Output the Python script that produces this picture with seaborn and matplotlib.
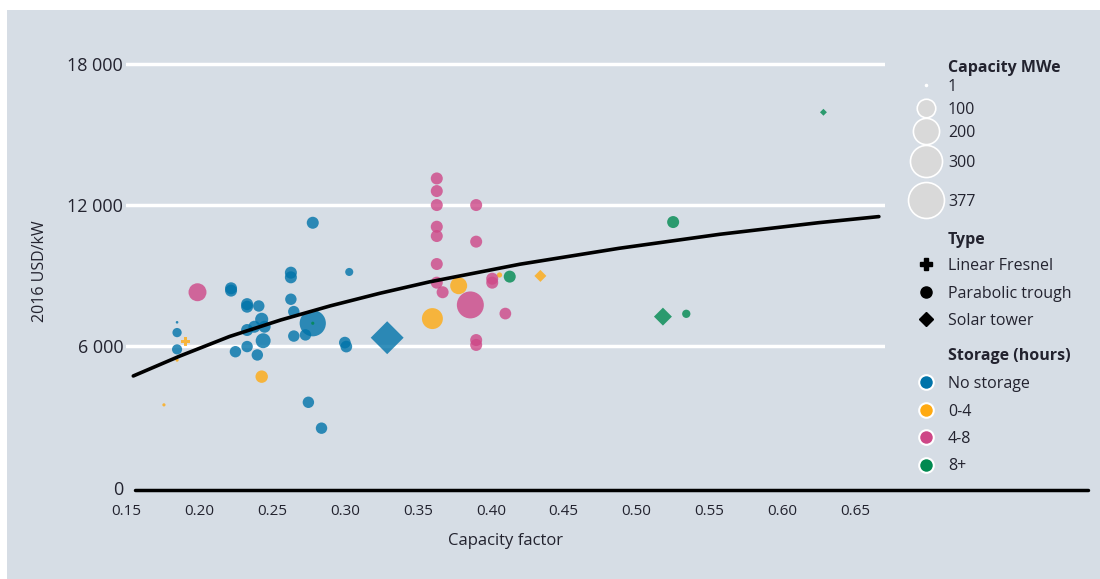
import matplotlib
matplotlib.use("Agg")
import matplotlib.pyplot as plt
from matplotlib.lines import Line2D
from matplotlib.patches import Rectangle
from matplotlib.ticker import FuncFormatter
import numpy as np
import pandas as pd
import seaborn as sns

# === Data ===
capacity_factor = [
    0.278, 0.303, 0.263, 0.263, 0.222, 0.222, 0.233, 0.233, 0.241, 0.263,
    0.265, 0.278, 0.243, 0.238, 0.245, 0.233, 0.244, 0.225, 0.233, 0.240,
    0.265, 0.273, 0.185, 0.185, 0.185, 0.275, 0.284, 0.300, 0.301, 0.329,
    0.191, 0.185, 0.243, 0.176, 0.378, 0.360, 0.406, 0.434,
    0.199, 0.363, 0.363, 0.363, 0.363, 0.363, 0.363, 0.363, 0.390, 0.390,
    0.390, 0.390, 0.367, 0.386, 0.401, 0.401, 0.410,
    0.413, 0.628, 0.525, 0.518, 0.534, 0.278,
]
cost_usd_kw = [
    11241, 9152, 9122, 8924, 8459, 8360, 7786, 7677, 7707, 7994,
    7469, 6974, 7142, 6826, 6826, 6687, 6232, 5766, 5984, 5628,
    6430, 6479, 6578, 5865, 7014, 3618, 2519, 6152, 5984, 6360,
    6192, 5410, 4707, 3509, 8568, 7172, 9023, 8984,
    8291, 13122, 12587, 11993, 11073, 10677, 9489, 8697, 11993, 10439,
    6261, 6053, 8291, 7752, 8865, 8697, 7385,
    8954, 15933, 11271, 7256, 7375, 6974,
]
capacity_mwe = [
    42, 19, 42, 42, 42, 42, 42, 42, 38, 38,
    38, 200, 50, 42, 42, 42, 65, 38, 38, 38,
    38, 38, 25, 30, 2, 38, 38, 40, 40, 158,
    24, 3, 45, 3, 84, 128, 8, 21,
    94, 42, 42, 42, 42, 42, 42, 42, 42, 42,
    42, 42, 42, 212, 42, 42, 40,
    42, 7, 42, 47, 20, 3,
]
storage_hours = (["No storage"] * 30 + ["0-4"] * 8 + ["4-8"] * 17 + ["8+"] * 6)
plant_type = (["Parabolic trough"] * 29 + ["Solar tower"]
              + ["Linear Fresnel"] + ["Parabolic trough"] * 6 + ["Solar tower"]
              + ["Parabolic trough"] * 17
              + ["Parabolic trough", "Solar tower", "Parabolic trough", "Solar tower",
                 "Parabolic trough", "Parabolic trough"])

# trend line, points
trend_cf = [0.155, 0.187, 0.221, 0.256, 0.290, 0.324, 0.358, 0.420, 0.488, 0.557, 0.625, 0.666]
trend_cost = [4736, 5584, 6413, 7112, 7712, 8247, 8731, 9481, 10157, 10752, 11246, 11503]

x_ticks = [0.15, 0.20, 0.25, 0.30, 0.35, 0.40, 0.45, 0.50, 0.55, 0.60, 0.65]
y_ticks = [0, 6000, 12000, 18000]
size_steps = [1, 100, 200, 300, 377]
storage_order = ["No storage", "0-4", "4-8", "8+"]
type_order = ["Linear Fresnel", "Parabolic trough", "Solar tower"]

# === Style ===
BG = "#d6dde5"
TXT = "#23232f"
palette = {"No storage": "#0073a9", "0-4": "#ffaa12", "4-8": "#ce4787", "8+": "#008950"}
markers = {"Linear Fresnel": "P", "Parabolic trough": "o", "Solar tower": "D"}
S_MIN, S_MAX = 1.8, 671
W, H = 1100, 579
LEG_FS = 11.5

df = pd.DataFrame({
    "cf": capacity_factor,
    "cost": cost_usd_kw,
    "capacity": capacity_mwe,
    "storage": storage_hours,
    "type": plant_type,
})

sns.set_style("white")
plt.rcParams["font.family"] = ["Open Sans", "DejaVu Sans"]

fig = plt.figure(figsize=(W / 100, H / 100), dpi=100, facecolor="white")
fig.add_artist(Rectangle((7 / W, 0), 1, 1 - 10 / H, transform=fig.transFigure,
                         facecolor=BG, edgecolor="none", zorder=-5))
ax = fig.add_axes([126 / W, 1 - 490 / H, (885 - 126) / W, (490 - 51.8) / H])
ax.set_facecolor("none")

sns.scatterplot(data=df, x="cf", y="cost", hue="storage", hue_order=storage_order,
                palette=palette, style="type", markers=markers,
                size="capacity", sizes=(S_MIN, S_MAX), size_norm=(1, 377),
                alpha=0.8, linewidth=0, legend=False, zorder=3, ax=ax)
ax.plot(trend_cf, trend_cost, color="black", lw=2.6, zorder=4,
        solid_capstyle="round", solid_joinstyle="round")

ax.set_xlim(0.15, 0.6702)
ax.set_ylim(-106, 18500)
ax.set_xticks(x_ticks)
ax.set_xticklabels([f"{v:.2f}" for v in x_ticks])
ax.set_yticks(y_ticks)
ax.yaxis.set_major_formatter(FuncFormatter(lambda v, p: f"{int(v):,}".replace(",", " ")))
ax.tick_params(axis="both", length=0, colors=TXT)
ax.tick_params(axis="x", labelsize=11, pad=10)
ax.tick_params(axis="y", labelsize=13, pad=2)
ax.grid(axis="y", color="white", lw=2.5)
ax.grid(axis="x", visible=False)
ax.set_axisbelow(True)
for val, gl in zip(y_ticks, ax.get_ygridlines()):
    if val == 0:
        gl.set_visible(False)
for s in ax.spines.values():
    s.set_visible(False)

ax.set_xlabel("Capacity factor", fontsize=12, color=TXT, labelpad=10)
ax.set_ylabel("2016 USD/kW", fontsize=11.5, color=TXT)
ax.yaxis.set_label_coords(-0.103, 0.5)

# bottom axis line runs under the legend too
fig.add_artist(Line2D([135 / W, 1088 / W], [1 - 490 / H] * 2, transform=fig.transFigure,
                      color="black", lw=2.5))

# === Legend ===
renderer = fig.canvas.get_renderer()
probe = fig.text(0, 0, "100", fontsize=LEG_FS)
row_h = probe.get_window_extent(renderer).height
probe.remove()

LABEL_X = 948
LEG_X = LABEL_X - (1.5 + 0.6) * LEG_FS * fig.dpi / 72


def add_legend(handles, labels, first_px, pitch_px):
    sep = (pitch_px - row_h) / (LEG_FS * fig.dpi / 72)
    mid = first_px + pitch_px * (len(labels) - 1) / 2
    fig.legend(handles, labels, loc="center left",
               bbox_to_anchor=(LEG_X / W, 1 - mid / H),
               frameon=False, fontsize=LEG_FS, labelspacing=sep,
               handlelength=1.5, handletextpad=0.6, borderpad=0,
               borderaxespad=0, labelcolor=TXT)


def size_of(c):
    return S_MIN + (c - 1) / (377 - 1) * (S_MAX - S_MIN)


def cap_handle(c):
    return Line2D([], [], ls="none", marker="o", ms=np.sqrt(size_of(c)),
                  mfc="#d9d9d9", mec="white", mew=1.2)


for txt, y in [("Capacity MWe", 68), ("Type", 240), ("Storage (hours)", 356)]:
    fig.text(LABEL_X / W, 1 - y / H, txt, fontsize=LEG_FS, fontweight="bold",
             color=TXT, va="center")

add_legend([cap_handle(c) for c in size_steps[:3]], [str(c) for c in size_steps[:3]], 87, 23)
add_legend([cap_handle(c) for c in size_steps[3:]], [str(c) for c in size_steps[3:]], 163, 39)

type_ms = {"Linear Fresnel": 8, "Parabolic trough": 8, "Solar tower": 7.5}
add_legend([Line2D([], [], ls="none", marker=markers[t], ms=type_ms[t], color="black")
            for t in type_order], type_order, 266, 27.5)
add_legend([Line2D([], [], ls="none", marker="o", ms=10.5, mfc=palette[s], mec="white", mew=1.5)
            for s in storage_order], storage_order, 384, 27.5)

fig.savefig("out.png", dpi=100, facecolor=fig.get_facecolor())
